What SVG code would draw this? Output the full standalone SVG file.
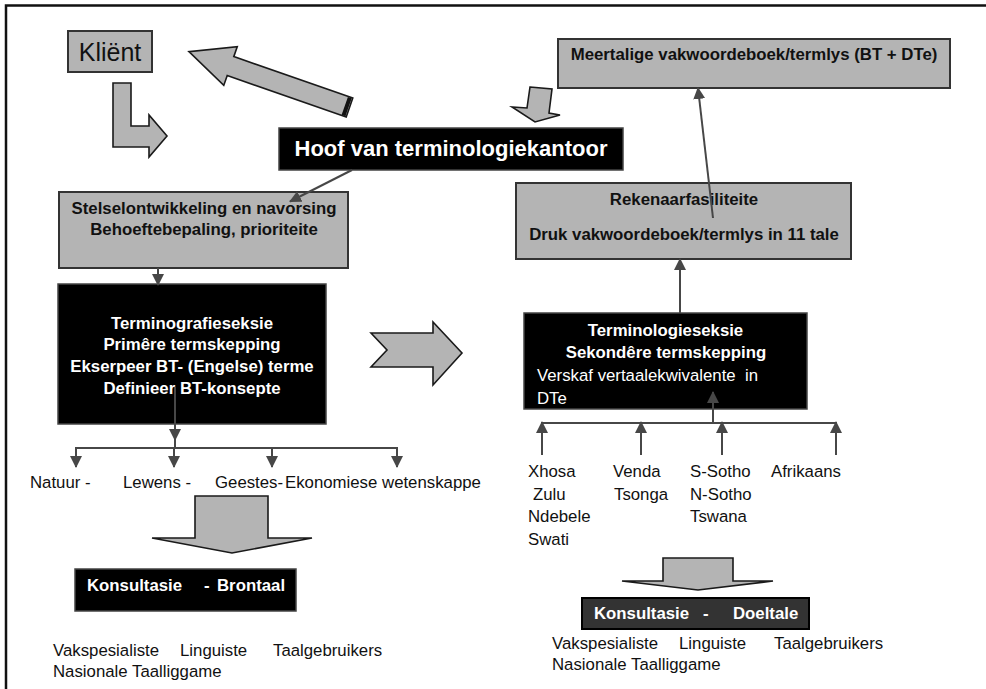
<svg xmlns="http://www.w3.org/2000/svg" width="986" height="689" viewBox="0 0 986 689">
<defs>
<style>
text{font-family:"Liberation Sans",Arial,sans-serif;font-size:16.8px;fill:#111}
.b{font-weight:bold}
.w{fill:#fff}
.grey{fill:#b4b4b4;stroke:#333;stroke-width:2}
.blk{fill:#000;stroke:#444;stroke-width:1.5}
.blockarrow{fill:#b4b4b4;stroke:#1a1a1a;stroke-width:1.6;stroke-linejoin:miter}
.con{fill:none;stroke:#474747;stroke-width:2}
</style>
<marker id="ah" viewBox="0 0 12 12" refX="11" refY="6" markerWidth="12" markerHeight="12" markerUnits="userSpaceOnUse" orient="auto">
<path d="M0,0 L12,6 L0,12 Z" fill="#474747"/>
</marker>
</defs>
<rect width="986" height="689" fill="#fff"/>
<path d="M6,689 V5.5 H986" fill="none" stroke="#111" stroke-width="2.5"/>

<g id="klient">
<rect class="grey" x="68" y="31" width="84" height="41"/>
<text x="110" y="61" text-anchor="middle" style="font-size:25px">Kliënt</text>
</g>

<g id="arrow-to-klient">
<g transform="translate(349.5,107.5) rotate(199.2)">
<polygon class="blockarrow" points="0,-10 126,-10 126,-20.5 170,0 126,20.5 126,10 0,10"/>
<rect x="1" y="-9.5" width="4" height="19" fill="#111"/>
</g>
</g>

<g id="arrow-klient-down">
<polygon class="blockarrow" points="113,83 131,83 131,126 149,126 149,115 167,136 149,157 149,147 113,147"/>
</g>

<g id="arrow-to-hoof">
<polygon class="blockarrow" points="530,87 552,89 549,113 560,115 535,122 512,107 527,108"/>
</g>

<g id="hoof">
<rect class="blk" x="279" y="128" width="344" height="42"/>
<text x="451" y="156" text-anchor="middle" class="b w" style="font-size:22px">Hoof van terminologiekantoor</text>
</g>

<g id="stelsel">
<rect class="grey" x="59" y="192" width="289" height="76"/>
<text x="204" y="213.5" text-anchor="middle" class="b">Stelselontwikkeling en navorsing</text>
<text x="204" y="235" text-anchor="middle" class="b">Behoeftebepaling, prioriteite</text>
</g>

<g id="terminografie">
<rect class="blk" x="58" y="284" width="268" height="140"/>
<text x="192" y="328.5" text-anchor="middle" class="b w">Terminografieseksie</text>
<text x="192" y="350" text-anchor="middle" class="b w">Primêre termskepping</text>
<text x="192" y="372" text-anchor="middle" class="b w">Ekserpeer BT- (Engelse) terme</text>
<text x="192" y="393.5" text-anchor="middle" class="b w">Definieer BT-konsepte</text>
</g>

<g id="arrow-right">
<polygon class="blockarrow" points="371,333 433,333 433,322 462,353 433,385 433,367 371,367 387,350"/>
</g>

<g id="categories">
<text x="30" y="488">Natuur -</text>
<text x="123" y="488">Lewens -</text>
<text x="215" y="488">Geestes-</text>
<text x="285" y="488">Ekonomiese wetenskappe</text>
</g>

<g id="arrow-down-left">
<polygon class="blockarrow" points="195,496 268,496 268,538 312,538 232,553 152,538 195,538"/>
</g>

<g id="konsultasie-brontaal">
<rect class="blk" x="75" y="569" width="221" height="42"/>
<text x="87" y="591" class="b w">Konsultasie</text>
<text x="204" y="591" class="b w">-</text>
<text x="217" y="591" class="b w">Brontaal</text>
</g>

<g id="consult-left-list">
<text x="53" y="655.5">Vakspesialiste</text>
<text x="180" y="655.5">Linguiste</text>
<text x="273" y="655.5">Taalgebruikers</text>
<text x="53" y="676.5">Nasionale Taalliggame</text>
</g>

<g id="meertalige">
<rect class="grey" x="558" y="39" width="392" height="49"/>
<text x="754" y="60.3" text-anchor="middle" class="b">Meertalige vakwoordeboek/termlys (BT + DTe)</text>
</g>

<g id="rekenaar">
<rect class="grey" x="516" y="183" width="335" height="76"/>
<text x="684" y="204.7" text-anchor="middle" class="b">Rekenaarfasiliteite</text>
<text x="684" y="240.3" text-anchor="middle" class="b">Druk vakwoordeboek/termlys in 11 tale</text>
</g>

<g id="terminologie">
<rect class="blk" x="524" y="313" width="283" height="96"/>
<text x="665.5" y="336.3" text-anchor="middle" class="b w">Terminologieseksie</text>
<text x="666" y="358" text-anchor="middle" class="b w">Sekondêre termskepping</text>
<text x="537" y="381" class="w" xml:space="preserve">Verskaf vertaalekwivalente  in</text>
<text x="537" y="403.5" class="w">DTe</text>
</g>

<g id="languages">
<text x="528" y="477">Xhosa</text>
<text x="533" y="499.5">Zulu</text>
<text x="528" y="522">Ndebele</text>
<text x="528" y="544.5">Swati</text>
<text x="613" y="477">Venda</text>
<text x="614" y="499.5">Tsonga</text>
<text x="690" y="477">S-Sotho</text>
<text x="690" y="499.5">N-Sotho</text>
<text x="690" y="522">Tswana</text>
<text x="771" y="477">Afrikaans</text>
</g>

<g id="arrow-down-right">
<polygon class="blockarrow" points="663,558 733,558 733,581 773,581 698,590 622,581 663,581"/>
</g>

<g id="konsultasie-doeltale">
<rect x="582" y="598" width="227" height="31" fill="#333" stroke="#000" stroke-width="2"/>
<text x="594" y="619" class="b w">Konsultasie</text>
<text x="703" y="619" class="b w">-</text>
<text x="733" y="619" class="b w">Doeltale</text>
</g>

<g id="consult-right-list">
<text x="552" y="649">Vakspesialiste</text>
<text x="679" y="649">Linguiste</text>
<text x="774" y="649">Taalgebruikers</text>
<text x="552" y="670">Nasionale Taalliggame</text>
</g>

<g id="connectors">
<line class="con" x1="352" y1="170" x2="290" y2="201.5" marker-end="url(#ah)"/>
<line class="con" x1="158" y1="268" x2="158" y2="285" marker-end="url(#ah)"/>
<line class="con" x1="175" y1="387" x2="175" y2="440" marker-end="url(#ah)"/>
<line class="con" x1="175" y1="438" x2="175" y2="448"/>
<line class="con" x1="76" y1="448" x2="397" y2="448"/>
<line class="con" x1="76" y1="447" x2="76" y2="467" marker-end="url(#ah)"/>
<line class="con" x1="174" y1="448" x2="174" y2="467" marker-end="url(#ah)"/>
<line class="con" x1="272" y1="448" x2="272" y2="467" marker-end="url(#ah)"/>
<line class="con" x1="397" y1="447" x2="397" y2="467" marker-end="url(#ah)"/>
<line class="con" x1="713" y1="218" x2="698" y2="88" marker-end="url(#ah)"/>
<line class="con" x1="680" y1="313" x2="680" y2="259" marker-end="url(#ah)"/>
<line class="con" x1="542" y1="423" x2="836" y2="423"/>
<line class="con" x1="713" y1="423" x2="713" y2="392" marker-end="url(#ah)"/>
<line class="con" x1="542" y1="455" x2="542" y2="422" marker-end="url(#ah)"/>
<line class="con" x1="641" y1="455" x2="641" y2="422" marker-end="url(#ah)"/>
<line class="con" x1="722" y1="455" x2="722" y2="422" marker-end="url(#ah)"/>
<line class="con" x1="836" y1="455" x2="836" y2="422" marker-end="url(#ah)"/>
</g>
</svg>
